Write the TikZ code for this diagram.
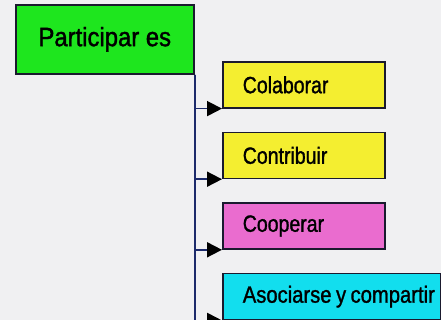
\documentclass[tikz,border=0pt]{standalone}
\usepackage{fontspec}
\setmainfont{Liberation Sans}
\newfontfamily\rootfont{Liberation Sans}[FakeStretch=0.9,FakeBold=1.4]
\newfontfamily\itemfont{Liberation Sans}[FakeStretch=0.83,FakeBold=1.2]
\newfontfamily\wideitemfont{Liberation Sans}[FakeStretch=0.86,FakeBold=1.2]
\usepackage{tikz}
\usetikzlibrary{arrows.meta,positioning}
\definecolor{partbg}{HTML}{F0F0F2}
\definecolor{partgreen}{HTML}{1EE61E}
\definecolor{partyellow}{HTML}{F4EE30}
\definecolor{partpink}{HTML}{EA6CCF}
\definecolor{partcyan}{HTML}{12DEEE}
\definecolor{partedge}{HTML}{1A1A2E}
\definecolor{partline}{HTML}{1C2A6B}
\tikzset{
  pa/root/.style={
    draw=partedge, line width=1.6pt, fill=partgreen, align=center,
    minimum width=178pt, minimum height=69pt, inner sep=0pt,
    font=\rootfont\fontsize{26.5}{28}\selectfont
  },
  pa/item/.style={
    draw=partedge, line width=1.6pt, align=left, text width=122pt,
    inner xsep=20pt, inner ysep=0pt, minimum height=46pt,
    font=\itemfont\fontsize{23.5}{26}\selectfont
  },
  pa/arr/.style={-{Triangle[length=15pt,width=15pt,color=black]}, partline, line width=1.8pt}
}

\begin{document}
\begin{tikzpicture}[node distance=23pt]
  \fill[partbg] (0pt,0pt) rectangle (441pt,-320pt);
  \useasboundingbox (0pt,0pt) rectangle (441pt,-320pt);

  \node[pa/root, anchor=north west] (root) at (15pt,-4pt) {Participar es};

  \node[pa/item, fill=partyellow, anchor=north west] (colab) at (222pt,-61pt) {Colaborar};
  \node[pa/item, fill=partyellow, below=of colab.south west, anchor=north west] (contrib) {Contribuir};
  \node[pa/item, fill=partpink, below=of contrib.south west, anchor=north west] (coop) {Cooperar};
  \node[pa/item, fill=partcyan, text width=178pt, below=of coop.south west, anchor=north west,
    font=\wideitemfont\fontsize{23.5}{26}\selectfont] (asoc)
    {\mbox{Asociarse\hspace{4.5pt}y\hspace{4.5pt}compartir}};

  \draw[pa/arr] (root.south east) |- (colab.south west);
  \draw[pa/arr] (root.south east) |- (contrib.south west);
  \draw[pa/arr] (root.south east) |- (coop.south west);
  \draw[pa/arr] (root.south east) |- (asoc.south west);
\end{tikzpicture}
\end{document}
